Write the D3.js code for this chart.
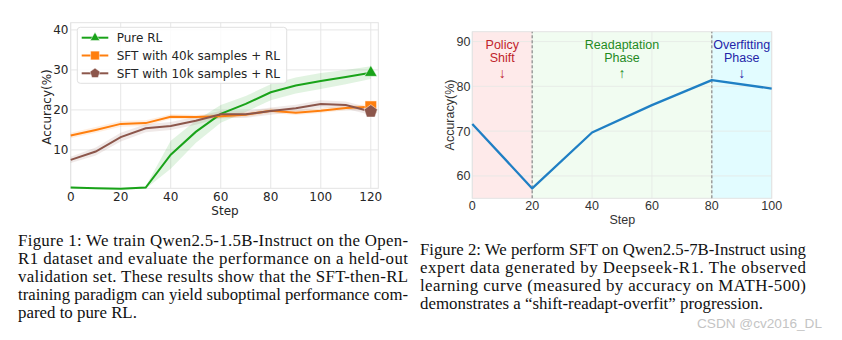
<!DOCTYPE html>
<html><head><meta charset="utf-8">
<script src="https://cdn.jsdelivr.net/npm/d3@7"></script>
<style>body{margin:0;background:#fff}svg{display:block}</style>
</head><body>
<svg id="c" width="842" height="340"></svg>
<script>
// ---- Figure 1 data ----
const steps1 = [0,10,20,30,40,50,60,70,80,90,100,110,120];
const pureRL   = [0.6,0.4,0.3,0.6,8.8,14.5,19.0,21.5,24.4,26.1,27.2,28.2,29.3];
const pureRLsd = [0.2,0.2,0.2,0.3,3.5,2.8,2.2,2.0,2.0,2.0,2.0,1.8,1.6];
const sft40k   = [13.6,15.0,16.5,16.7,18.3,18.2,18.4,18.8,19.8,19.3,19.8,20.5,20.8];
const sft40ksd = [0.7,0.7,0.7,0.7,0.6,0.6,0.6,0.6,0.6,0.6,0.6,0.6,0.6];
const sft10k   = [7.5,9.6,13.2,15.4,16.0,17.3,18.9,18.9,19.7,20.4,21.5,21.2,19.6];
const sft10ksd = [0.8,1.0,1.1,1.0,1.0,1.0,0.9,0.9,0.9,0.9,0.9,0.9,0.9];
const seriesNames = ["Pure RL","SFT with 40k samples + RL","SFT with 10k samples + RL"];
const xTicks1 = [0,20,40,60,80,100,120];
const yTicks1 = [10,20,30,40];

// ---- Figure 2 data ----
const steps2 = [0,20,40,60,80,100];
const acc2   = [71.6,57.2,69.7,75.8,81.4,79.5];
const xTicks2 = [0,20,40,60,80,100];
const yTicks2 = [60,70,80,90];
const phases = [
  {from:0, to:20, label:["Policy","Shift","↓"], fill:"#feeaea", color:"#c0232b"},
  {from:20,to:80, label:["Readaptation","Phase","↑"], fill:"#f1fcf1", color:"#1f8a1f"},
  {from:80,to:100,label:["Overfitting","Phase","↓"], fill:"#e2fcff", color:"#2424a8"}
];

// ---- captions ----
const caption1 = [
 "Figure 1: We train Qwen2.5-1.5B-Instruct on the Open-",
 "R1 dataset and evaluate the performance on a held-out",
 "validation set. These results show that the SFT-then-RL",
 "training paradigm can yield suboptimal performance com-",
 "pared to pure RL."];
const caption2 = [
 "Figure 2: We perform SFT on Qwen2.5-7B-Instruct using",
 "expert data generated by Deepseek-R1.  The observed",
 "learning curve (measured by accuracy on MATH-500)",
 "demonstrates a \u201cshift-readapt-overfit\u201d progression."];

const svg = d3.select("#c");

function marker(sel, type, cx, cy, w, color){
  let d;
  if(type==="tri") d = d3.symbol(d3.symbolTriangle, 0.433*w*w)();
  else if(type==="sq") d = d3.symbol(d3.symbolSquare, w*w*0.85)();
  else {
    const r=w*0.55, pts=[];
    for(let k=0;k<5;k++){const a=-Math.PI/2+k*2*Math.PI/5;pts.push([r*Math.cos(a),r*Math.sin(a)]);}
    d = "M"+pts.join("L")+"Z";
  }
  sel.append("path").attr("d",d).attr("transform",`translate(${cx},${cy})`)
    .attr("fill",color).attr("stroke","#fff").attr("stroke-width",0.6).attr("stroke-opacity",0.8);
}

// ================= Figure 1 =================
(function(){
  const F = "DejaVu Sans, sans-serif";
  const x = d3.scaleLinear().domain([0,123]).range([70.7,378.3]);
  const y = d3.scaleLinear().domain([0.4,41.8]).range([188.3,22.7]);
  const g = svg.append("g");
  g.selectAll(".gx").data(xTicks1).join("line")
    .attr("x1",d=>x(d)).attr("x2",d=>x(d)).attr("y1",y.range()[0]).attr("y2",y.range()[1])
    .attr("stroke","#e6e6e6").attr("stroke-width",1);
  g.selectAll(".gy").data(yTicks1).join("line")
    .attr("y1",d=>y(d)).attr("y2",d=>y(d)).attr("x1",x.range()[0]).attr("x2",x.range()[1])
    .attr("stroke","#e6e6e6").attr("stroke-width",1);
  g.append("rect").attr("x",x.range()[0]).attr("y",y.range()[1])
    .attr("width",x.range()[1]-x.range()[0]).attr("height",y.range()[0]-y.range()[1])
    .attr("fill","none").attr("stroke","#e3e3e3").attr("stroke-width",1);

  const series = [
    {vals:pureRL, sd:pureRLsd, color:"#19a319", marker:"tri"},
    {vals:sft40k, sd:sft40ksd, color:"#ff7f0e", marker:"sq"},
    {vals:sft10k, sd:sft10ksd, color:"#8c564b", marker:"pent"}
  ];
  const area = d3.area().x((d,i)=>x(steps1[i])).y0(d=>y(d[0]-d[1])).y1(d=>y(d[0]+d[1]));
  const line = d3.line().x((d,i)=>x(steps1[i])).y(d=>y(d));
  series.forEach(s=>{
    g.append("path").datum(s.vals.map((v,i)=>[v,s.sd[i]])).attr("d",area)
      .attr("fill",s.color).attr("fill-opacity",0.13);
  });
  series.forEach(s=>{
    g.append("path").datum(s.vals).attr("d",line).attr("fill","none")
      .attr("stroke",s.color).attr("stroke-width",2);
  });
  series.forEach(s=>{
    const n=s.vals.length-1;
    marker(g, s.marker, x(steps1[n]), y(s.vals[n]), 12.5, s.color);
  });
  g.selectAll(".tx").data(xTicks1).join("text").attr("x",d=>x(d)).attr("y",201)
    .attr("text-anchor","middle").attr("font-family",F).attr("font-size",12).attr("fill","#262626").text(d=>d);
  g.selectAll(".ty").data(yTicks1).join("text").attr("x",68.5).attr("y",d=>y(d)+4.3)
    .attr("text-anchor","end").attr("font-family",F).attr("font-size",12).attr("fill","#262626").text(d=>d);
  g.append("text").attr("x",225).attr("y",214.5).attr("text-anchor","middle")
    .attr("font-family",F).attr("font-size",12).attr("fill","#262626").text("Step");
  g.append("text").attr("transform","translate(51,107) rotate(-90)").attr("text-anchor","middle")
    .attr("font-family",F).attr("font-size",12).attr("fill","#262626").text("Accuracy(%)");
  const lg = g.append("g");
  lg.append("rect").attr("x",77.3).attr("y",27.3).attr("width",209.4).attr("height",56).attr("rx",3)
    .attr("fill","#fff").attr("fill-opacity",0.85).attr("stroke","#e0e0e0");
  seriesNames.forEach((nm,i)=>{
    const yy = 37.7 + i*17.8;
    lg.append("line").attr("x1",81.7).attr("x2",108.3).attr("y1",yy).attr("y2",yy)
      .attr("stroke",series[i].color).attr("stroke-width",2);
    marker(lg, series[i].marker, 95, yy, 9.5, series[i].color);
    lg.append("text").attr("x",116.7).attr("y",yy+4.3).attr("font-family",F).attr("font-size",12)
      .attr("fill","#262626").text(nm);
  });
})();

// ================= Figure 2 =================
(function(){
  const F = "Liberation Sans, Arial, sans-serif";
  const x = d3.scaleLinear().domain([0,100]).range([472.3,771.7]);
  const y = d3.scaleLinear().domain([55,92.2]).range([198.3,31.7]);
  const g = svg.append("g");
  phases.forEach(p=>{
    g.append("rect").attr("x",x(p.from)).attr("y",y.range()[1]).attr("width",x(p.to)-x(p.from))
      .attr("height",y.range()[0]-y.range()[1]).attr("fill",p.fill);
  });
  g.selectAll(".gx").data(xTicks2).join("line")
    .attr("x1",d=>x(d)).attr("x2",d=>x(d)).attr("y1",y.range()[0]).attr("y2",y.range()[1])
    .attr("stroke","#e4e9e4").attr("stroke-width",0.8);
  g.selectAll(".gy").data(yTicks2).join("line")
    .attr("y1",d=>y(d)).attr("y2",d=>y(d)).attr("x1",x.range()[0]).attr("x2",x.range()[1])
    .attr("stroke","#e4e9e4").attr("stroke-width",0.8);
  g.append("rect").attr("x",x.range()[0]).attr("y",y.range()[1])
    .attr("width",x.range()[1]-x.range()[0]).attr("height",y.range()[0]-y.range()[1])
    .attr("fill","none").attr("stroke","#e3e3e3").attr("stroke-width",1);
  [20,80].forEach(v=>{
    g.append("line").attr("x1",x(v)).attr("x2",x(v)).attr("y1",y.range()[0]).attr("y2",y.range()[1])
      .attr("stroke","#8a8a8a").attr("stroke-width",1.2).attr("stroke-dasharray","3,2");
  });
  const line = d3.line().x((d,i)=>x(steps2[i])).y(d=>y(d));
  g.append("path").datum(acc2).attr("d",line).attr("fill","none")
    .attr("stroke","#1f7fc4").attr("stroke-width",2.3).attr("stroke-linejoin","round");
  const lineY = [48.5, 62, 77.5], lineFs = [12.5, 12.5, 14];
  phases.forEach(p=>{
    const cx = x((p.from+p.to)/2);
    p.label.forEach((s,i)=>{
      g.append("text").attr("x",cx).attr("y",lineY[i]).attr("text-anchor","middle")
        .attr("font-family",F).attr("font-size",lineFs[i]).attr("fill",p.color).text(s);
    });
  });
  g.selectAll(".tx").data(xTicks2).join("text").attr("x",d=>x(d)).attr("y",210.3)
    .attr("text-anchor","middle").attr("font-family",F).attr("font-size",12.5).attr("fill","#333").text(d=>d);
  g.selectAll(".ty").data(yTicks2).join("text").attr("x",470.5).attr("y",d=>y(d)+4.5)
    .attr("text-anchor","end").attr("font-family",F).attr("font-size",12.5).attr("fill","#333").text(d=>d);
  g.append("text").attr("x",622.3).attr("y",223.5).attr("text-anchor","middle")
    .attr("font-family",F).attr("font-size",12.5).attr("fill","#333").text("Step");
  g.append("text").attr("transform","translate(453.5,115) rotate(-90)").attr("text-anchor","middle")
    .attr("font-family",F).attr("font-size",12.5).attr("fill","#333").text("Accuracy(%)");
})();

// ================= captions =================
const SF = "Liberation Serif, Times New Roman, serif";
function caption(lines, x0, y0, fullW, lastW){
  const g = svg.append("g");
  const texts = lines.map((t,i)=>g.append("text").attr("font-family",SF).attr("font-size",17.5)
    .attr("fill","#111").attr("y",y0+i*18).text(t));
  const nat = texts[texts.length-1].node().getComputedTextLength();
  const s = lastW/nat;
  g.attr("transform",`translate(${x0},0) scale(${s},1)`);
  texts.forEach((t,i)=>{
    if(i===texts.length-1) return;
    const w = t.node().getComputedTextLength();
    const target = fullW/s;
    t.attr("textLength",target).attr("lengthAdjust", w<target?"spacing":"spacingAndGlyphs");
  });
}
caption(caption1, 18, 246.5, 390, 119);
caption(caption2, 420, 255.5, 386, 343);
svg.append("text").attr("x",697).attr("y",328).attr("font-family","Liberation Sans, Arial, sans-serif")
  .attr("font-size",13).attr("fill","#c4c4c4").attr("textLength",125).attr("lengthAdjust","spacingAndGlyphs")
  .text("CSDN @cv2016_DL");
</script>
</body></html>
